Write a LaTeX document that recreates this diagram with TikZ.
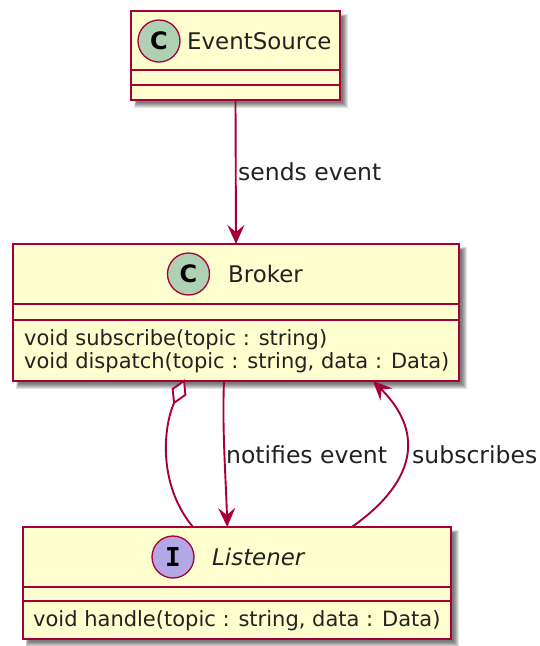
\documentclass[tikz,border=0pt]{standalone}
\usepackage{fontspec}
\setmainfont{DejaVu Sans}
\newfontfamily\iconmono{DejaVu Sans Mono}
\usetikzlibrary{arrows.meta,calc}
\definecolor{umlfill}{HTML}{FEFECE}
\definecolor{umlline}{HTML}{A80036}
\definecolor{cfill}{HTML}{ADD1B2}
\definecolor{ifill}{HTML}{B4A7E5}
\definecolor{txt}{HTML}{222222}
\newcommand\umlshadow[4]{%
  \foreach \g in {0,1,2,3,4,5}{%
    \fill[black,opacity=0.11] (#1+6-\g*0.6,#2+6-\g*0.6) rectangle (#3+3+\g,#4+3+\g);}}
\tikzset{
  classbox/.style={draw=umlline, fill=umlfill, line width=2pt, rectangle, inner sep=0pt, outer sep=0pt},
  sepline/.style={draw=umlline, line width=2pt},
  iconc/.style={circle, draw=umlline, fill=cfill, line width=1.3pt, minimum size=42pt, inner sep=0pt,
    font=\fontsize{24}{24}\selectfont\bfseries, text=black},
  iconi/.style={circle, draw=umlline, fill=ifill, line width=1.3pt, minimum size=42pt, inner sep=0pt,
    font=\iconmono\fontsize{26}{26}\selectfont\bfseries, text=black},
  cname/.style={anchor=base west, inner sep=0pt, font=\fontsize{22.9}{26}\selectfont, text=txt},
  member/.style={anchor=base west, inner sep=0pt, font=\fontsize{21}{24}\selectfont, text=txt},
  lbl/.style={anchor=base west, inner sep=0pt, font=\fontsize{23.5}{27}\selectfont, text=txt},
  conn/.style={draw=umlline, line width=1.9pt},
  arrowhd/.style={-{Stealth[length=19pt, width=17pt, inset=7pt]}},
}
\begin{document}
\begin{tikzpicture}[x=1pt,y=-1pt]
\fill[white] (0,0) rectangle (540,646);
\useasboundingbox (0,0) rectangle (540,646);

% shadows
\umlshadow{131}{11}{340}{100}
\umlshadow{13}{244}{459}{381}
\umlshadow{22.5}{527}{451}{639}

% EventSource
\node[classbox, minimum width=209pt, minimum height=89pt] (es) at (235.5,55.5) {};
\draw[sepline] (es.west |- 0,70) -- (es.east |- 0,70);
\draw[sepline] (es.west |- 0,85) -- (es.east |- 0,85);
\node[iconc] (esicon) at (159,41) {C};
\node[cname] (esname) at (187,49) {EventSource};

% Broker
\node[classbox, minimum width=446pt, minimum height=137pt] (br) at (236,312.5) {};
\draw[sepline] (br.west |- 0,304) -- (br.east |- 0,304);
\draw[sepline] (br.west |- 0,320) -- (br.east |- 0,320);
\node[iconc] (bricon) at (188.5,274) {C};
\node[cname] (brname) at (228,282) {Broker};
\node[member] (brm1) at (24,345) {void subscribe(topic : string)};
\node[member] (brm2) at (24,368) {void dispatch(topic : string, data : Data)};

% Listener
\node[classbox, minimum width=428.5pt, minimum height=112pt] (li) at (236.75,583) {};
\draw[sepline] (li.west |- 0,587) -- (li.east |- 0,587);
\draw[sepline] (li.west |- 0,601) -- (li.east |- 0,601);
\node[iconi] (liicon) at (173,557) {I};
\node[cname, font=\fontsize{22.9}{26}\selectfont\itshape] (liname) at (212,565) {Listener};
\node[member] (lim1) at (33,626) {void handle(topic : string, data : Data)};

% EventSource -> Broker
\draw[conn, arrowhd] (es.south) -- (br.north);
\node[lbl] (lsends) at (238,180) {sends event};

% Broker -> Listener (notifies)
\coordinate (n1) at ([xshift=-12pt]br.south);
\coordinate (n2) at ([xshift=-9.5pt]li.north);
\draw[conn, arrowhd] (n1) .. controls (222,430) and (226,480) .. (n2);
\node[lbl] (lnotify) at (226,463) {notifies event};

% aggregation Broker <>-- Listener
\coordinate (dT) at ([xshift=-52pt]br.south);
\coordinate (dB) at ($(dT)+(-9.9,21.8)$);
\coordinate (a2) at ([xshift=-43.75pt]li.north);
\draw[conn, fill=white] (dT) -- ++(1.4,13.8) -- ++(-11.3,8) -- ++(-1.5,-13.8) -- cycle;
\draw[conn] (dB) .. controls (163,428) and (158,485) .. (a2);

% Listener -> Broker (subscribes)
\coordinate (s1) at ([xshift=115pt]li.north);
\coordinate (s2) at ([xshift=137pt]br.south);
\draw[conn, arrowhd] (s1) .. controls (405,490) and (432,440) .. (s2);
\node[lbl] (lsub) at (412,463) {subscribes};
\end{tikzpicture}
\end{document}
